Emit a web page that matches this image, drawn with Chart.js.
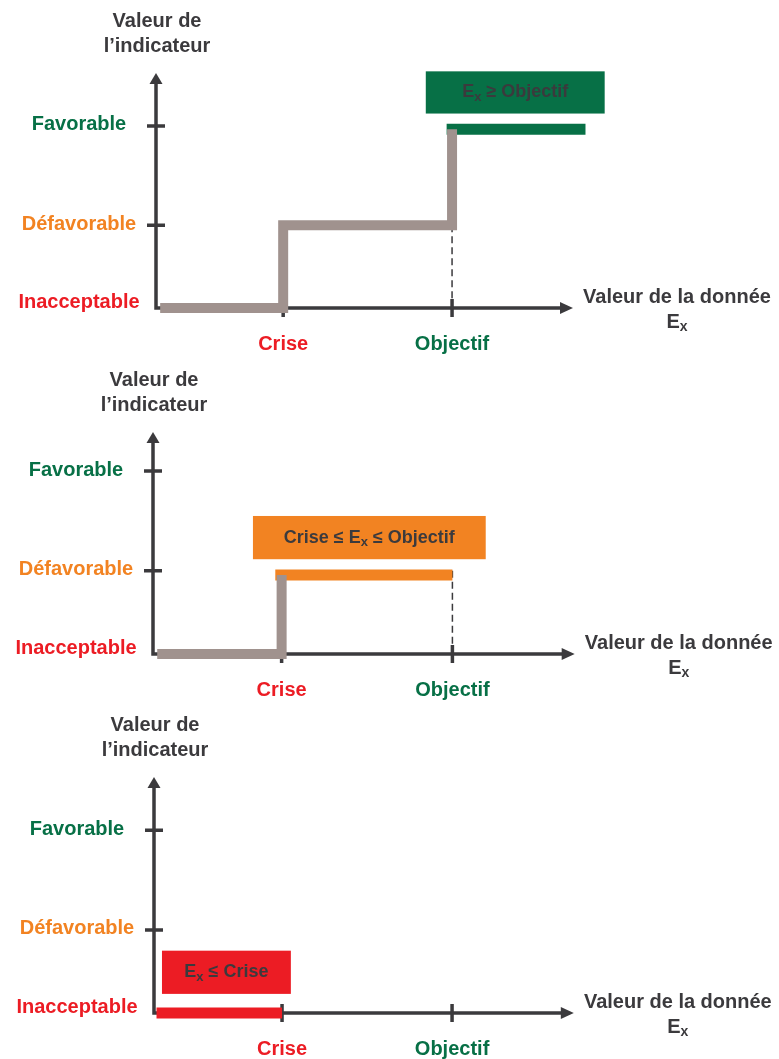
<!DOCTYPE html>
<html>
<head>
<meta charset="utf-8">
<script src="https://cdn.jsdelivr.net/npm/chart.js@4.4.1/dist/chart.umd.min.js"></script>
<style>
  body { margin: 0; background: #fff; }
  canvas.panel { position: absolute; left: 0; }
</style>
</head>
<body>
<canvas id="chart1" class="panel" width="779" height="360" style="top:0px"></canvas>
<canvas id="chart2" class="panel" width="779" height="340" style="top:360px"></canvas>
<canvas id="chart3" class="panel" width="779" height="359" style="top:700px"></canvas>
<script>
// levels of the indicator (y) and thresholds of the data value (x)
const levelNames = ["Inacceptable", "Défavorable", "Favorable"];
const levelValues = [0, 1, 2.2];
const thresholdNames = ["Crise", "Objectif"];
const thresholdValues = [30.5, 71];
const axisEnd = 100;

// panel 1 : Ex >= Objectif
const greyX1 = [1, 30.5, 30.5, 71, 71];
const greyY1 = [0, 0, 1, 1, 2.16];
const resultX1 = [69.7, 103];
const resultY1 = [2.16, 2.16];
// panel 2 : Crise <= Ex <= Objectif
const greyX2 = [1, 30.5, 30.5];
const greyY2 = [0, 0, 0.95];
const resultX2 = [29, 71];
const resultY2 = [0.95, 0.95];
// panel 3 : Ex <= Crise
const resultX3 = [0.6, 30.5];
const resultY3 = [0, 0];

const boxTexts = ["E_x ≥ Objectif", "Crise ≤ E_x ≤ Objectif", "E_x ≤ Crise"];

const INK = "#3b3a3d";
const GREY = "#a0928e";
const GREEN = "#077046";
const ORANGE = "#f28322";
const RED = "#ec1c24";
const levelColors = [RED, ORANGE, GREEN];
const thresholdColors = [RED, GREEN];
const FONT = "'Liberation Sans', Arial, sans-serif";

function points(xs, ys) {
    return xs.map((x, i) => ({ x: x, y: ys[i] }));
}

// text with "_x" written as a subscript x
function drawRich(ctx, text, cx, cy, size) {
    const parts = text.split("_x");
    const big = "bold " + size + "px " + FONT;
    const small = "bold " + Math.round(size * 0.72) + "px " + FONT;
    let width = 0;
    parts.forEach((p, i) => {
        ctx.font = big;
        width += ctx.measureText(p).width;
        if (i < parts.length - 1) {
            ctx.font = small;
            width += ctx.measureText("x").width;
        }
    });
    let left = cx - width / 2;
    ctx.textAlign = "left";
    ctx.textBaseline = "middle";
    parts.forEach((p, i) => {
        ctx.font = big;
        ctx.fillText(p, left, cy);
        left += ctx.measureText(p).width;
        if (i < parts.length - 1) {
            ctx.font = small;
            ctx.fillText("x", left, cy + size * 0.28);
            left += ctx.measureText("x").width;
        }
    });
}

const diagramPlugin = {
    id: "diagram",
    beforeDatasetsDraw(chart, args, opts) {
        const ctx = chart.ctx;
        const x = chart.scales.x, y = chart.scales.y;
        const x0 = x.getPixelForValue(0), y0 = y.getPixelForValue(0);
        const yTop = y.getPixelForValue(y.max), xEnd = x.getPixelForValue(axisEnd);
        ctx.save();
        ctx.strokeStyle = INK;
        ctx.fillStyle = INK;
        ctx.lineWidth = 3.5;

        // dashed line at Objectif
        if (opts.dashed) {
            const xo = x.getPixelForValue(thresholdValues[1]);
            ctx.save();
            ctx.lineWidth = 1.5;
            ctx.setLineDash([7, 4]);
            ctx.beginPath();
            ctx.moveTo(xo, y.getPixelForValue(levelValues[1]));
            ctx.lineTo(xo, y0);
            ctx.stroke();
            ctx.restore();
        }

        // axes
        ctx.beginPath();
        ctx.moveTo(x0, y0 + 1.75);
        ctx.lineTo(x0, yTop + 9);
        ctx.moveTo(x0 - 1.75, y0);
        ctx.lineTo(xEnd - 9, y0);
        ctx.stroke();
        ctx.beginPath();
        ctx.moveTo(x0, yTop);
        ctx.lineTo(x0 - 6.5, yTop + 11);
        ctx.lineTo(x0 + 6.5, yTop + 11);
        ctx.closePath();
        ctx.fill();
        ctx.beginPath();
        ctx.moveTo(xEnd, y0);
        ctx.lineTo(xEnd - 13, y0 - 6);
        ctx.lineTo(xEnd - 13, y0 + 6);
        ctx.closePath();
        ctx.fill();

        // ticks
        ctx.beginPath();
        levelValues.slice(1).forEach(v => {
            const py = y.getPixelForValue(v);
            ctx.moveTo(x0 - 9, py);
            ctx.lineTo(x0 + 9, py);
        });
        thresholdValues.forEach(v => {
            const px = x.getPixelForValue(v);
            ctx.moveTo(px, y0 - 9);
            ctx.lineTo(px, y0 + 9);
        });
        ctx.stroke();

        // level labels
        ctx.font = "bold 20px " + FONT;
        ctx.textAlign = "center";
        ctx.textBaseline = "middle";
        levelNames.forEach((name, i) => {
            ctx.fillStyle = levelColors[i];
            ctx.fillText(name, x0 - 77, y.getPixelForValue(levelValues[i]) + (i === 0 ? -6 : -1));
        });
        thresholdNames.forEach((name, i) => {
            ctx.fillStyle = thresholdColors[i];
            ctx.fillText(name, x.getPixelForValue(thresholdValues[i]), y0 + 36);
        });

        // axis titles
        ctx.fillStyle = INK;
        ctx.fillText("Valeur de", x0 + 1, yTop - 52);
        ctx.fillText("l\u2019indicateur", x0 + 1, yTop - 27);
        ctx.fillText("Valeur de la donnée", xEnd + 104, y0 - 11);
        drawRich(ctx, "E_x", xEnd + 104, y0 + 14, 20);

        // result box
        const b = opts.box;
        const bx1 = x.getPixelForValue(b.x[0]), bx2 = x.getPixelForValue(b.x[1]);
        const by1 = y.getPixelForValue(b.y[1]), by2 = y.getPixelForValue(b.y[0]);
        ctx.fillStyle = b.color;
        ctx.fillRect(bx1, by1, bx2 - bx1, by2 - by1);
        ctx.fillStyle = INK;
        drawRich(ctx, b.text, (bx1 + bx2) / 2, (by1 + by2) / 2, 18);
        ctx.restore();
    }
};

function lineSet(data, color, width) {
    return {
        data: data,
        borderColor: color,
        borderWidth: width,
        pointRadius: 0,
        tension: 0,
        fill: false,
        clip: false,
        borderJoinStyle: "miter",
        borderCapStyle: "butt"
    };
}

function makeChart(id, datasets, panel) {
    return new Chart(document.getElementById(id).getContext("2d"), {
        type: "line",
        data: { datasets: datasets },
        options: {
            responsive: false,
            animation: false,
            events: [],
            layout: { padding: panel.padding },
            scales: {
                x: { type: "linear", display: false, min: 0, max: 106 },
                y: { type: "linear", display: false, min: 0, max: panel.yMax }
            },
            plugins: {
                legend: { display: false },
                tooltip: { enabled: false },
                diagram: panel
            }
        },
        plugins: [diagramPlugin]
    });
}

let chart1 = makeChart("chart1", [
    lineSet(points(greyX1, greyY1), GREY, 10),
    lineSet(points(resultX1, resultY1), GREEN, 11)
], {
    padding: { left: 156, right: 181, top: 73, bottom: 52 },
    yMax: 2.84,
    dashed: true,
    box: { x: [64.7, 107.6], y: [2.35, 2.86], color: GREEN, text: boxTexts[0] }
});

let chart2 = makeChart("chart2", [
    lineSet(points(greyX2, greyY2), GREY, 10),
    lineSet(points(resultX2, resultY2), ORANGE, 11)
], {
    padding: { left: 153, right: 179, top: 72, bottom: 46 },
    yMax: 2.67,
    dashed: true,
    box: { x: [23.7, 78.9], y: [1.14, 1.66], color: ORANGE, text: boxTexts[1] }
});

let chart3 = makeChart("chart3", [
    lineSet(points(resultX3, resultY3), RED, 11)
], {
    padding: { left: 154, right: 180, top: 77, bottom: 46 },
    yMax: 2.84,
    dashed: false,
    box: { x: [1.9, 32.6], y: [0.23, 0.75], color: RED, text: boxTexts[2] }
});
</script>
</body>
</html>
